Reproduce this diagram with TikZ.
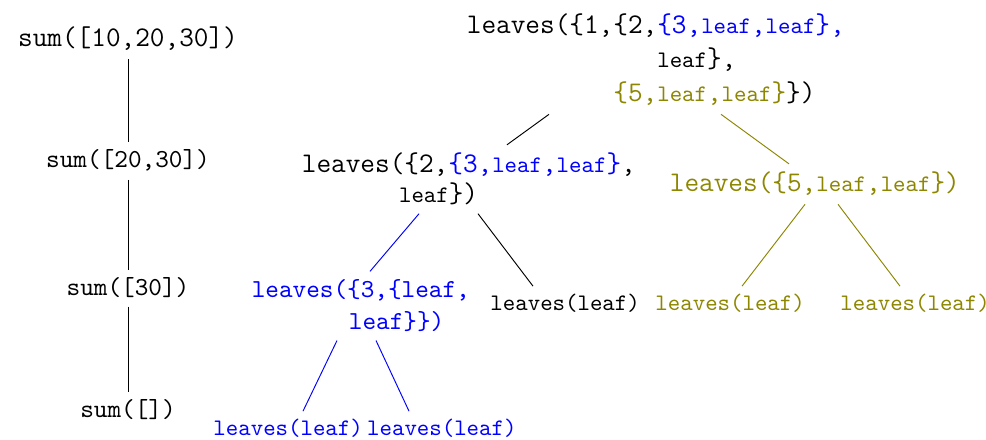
\documentclass[tikz,border=0pt]{standalone}
\usepackage{fontspec}
\usepackage{tikz}

\newcommand{\sleaf}{{\fontsize{10}{12}\selectfont leaf}}
\newcommand{\lind}{\hspace*{41pt}}

\begin{document}
\begin{tikzpicture}[x=0.4219pt, y=-0.4219pt,
    every node/.append style={anchor=base west, align=left},
    big/.style={font=\ttfamily\fontsize{12}{14}\selectfont},
    mid/.style={font=\ttfamily\fontsize{10.95}{13.6}\selectfont},
    sml/.style={font=\ttfamily\fontsize{10}{12}\selectfont}]
    \useasboundingbox (0,0) rectangle (986,440);

    \node[big, anchor=base] (s-1) at (128,47) {sum([10,20,30])};
    \foreach[count=\i from 2] \slist/\sy in {{[20,30]}/168, {[30]}/296, {[]}/418} {
        \node[mid, anchor=base] (s-\i) at (128,\sy) {sum(\slist)};
    }
    \foreach \i/\j in {1/2,2/3,3/4}
        \draw (s-\i) -- (s-\j);

    \node[big] (root) at (458.5,102) {leaves(\{1,\{2,\textcolor{blue}{\{3,\sleaf,\sleaf\},}\\[0.5pt]
        \phantom{leaves(\{1,\{2,}\sleaf\},\\[0.5pt]
        \phantom{leaves(\{1,}\textcolor{olive}{\{5,\sleaf,\sleaf\}}\})};
    \node[big] (lc) at (293.5,203) {leaves(\{2,\textcolor{blue}{\{3,\sleaf,\sleaf\}},\\[-1.3pt]
        \lind\sleaf\})};
    \node[big, olive] (rc) at (661.5,192) {leaves(\{5,\sleaf,\sleaf\})};
    \node[mid, blue] (bc) at (243.4,330) {leaves(\{3,\{leaf,\\
        \lind leaf\}\})};
    \node[sml] (lf) at (482.1,311) {leaves(leaf)};
    \node[sml, olive] (ol-1) at (647.1,311) {leaves(leaf)};
    \node[sml, olive] (ol-2) at (832.1,311) {leaves(leaf)};
    \node[sml, blue] (bl-1) at (205.1,436) {leaves(leaf)};
    \node[sml, blue] (bl-2) at (358.8,436) {leaves(leaf)};

    \draw (root.south -| 549,0) -- (lc.north -| 507,0);
    \draw[olive] (root.south -| 721,0) -- (rc.north -| 789,0);
    \draw[blue] (lc.south -| 419,0) -- (bc.north -| 370,0);
    \draw (lc.south -| 478,0) -- (lf.north -| 533,0);
    \draw[blue] (bc.south -| 337,0) -- (bl-1.north -| 303,0);
    \draw[blue] (bc.south -| 376,0) -- (bl-2.north -| 409,0);
    \draw[olive] (rc.south -| 805,0) -- (ol-1.north -| 742,0);
    \draw[olive] (rc.south -| 838,0) -- (ol-2.north -| 900,0);
\end{tikzpicture}
\end{document}
